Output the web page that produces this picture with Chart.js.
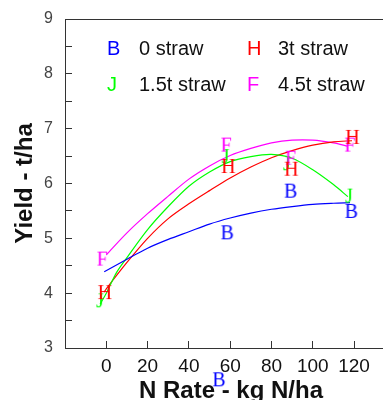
<!DOCTYPE html>
<html>
<head>
<meta charset="utf-8">
<script src="https://cdn.jsdelivr.net/npm/chart.js@4/dist/chart.umd.min.js"></script>
<style>
  html, body { margin: 0; padding: 0; background: #fff; }
</style>
</head>
<body>
<canvas id="yieldChart" width="383" height="400"></canvas>
<script>
// series: 0 straw, 1.5t straw, 3t straw, 4.5t straw
const seriesNames = ['0 straw', '1.5t straw', '3t straw', '4.5t straw'];
const seriesColors = ['#0000ff', '#00ff00', '#ff0000', '#ff00ff'];
const markerLetters = ['B', 'J', 'H', 'F'];
const markerOrder = [4, 3, 1, 2]; // red letters sit on top, blue underneath

// fitted response curves
const curve0X = [-1, 10, 20, 30, 40, 50, 60, 70, 80, 90, 100, 110, 118];
const curve0Y = [4.39, 4.62, 4.82, 4.98, 5.12, 5.26, 5.37, 5.46, 5.53, 5.58, 5.62, 5.64, 5.65];
const curve15X = [-3, 0, 5, 10, 20, 30, 40, 50, 60, 70, 80, 90, 100, 110, 117];
const curve15Y = [3.80, 4.00, 4.38, 4.65, 5.16, 5.58, 5.95, 6.21, 6.40, 6.49, 6.53, 6.46, 6.25, 5.98, 5.76];
const curve3X = [-1, 0, 10, 20, 30, 40, 50, 60, 70, 80, 90, 100, 110, 119];
const curve3Y = [4.02, 4.08, 4.56, 5.00, 5.36, 5.63, 5.87, 6.10, 6.30, 6.47, 6.60, 6.70, 6.76, 6.78];
const curve45X = [0, 10, 20, 30, 40, 50, 60, 70, 80, 90, 100, 110, 117];
const curve45Y = [4.70, 5.10, 5.45, 5.77, 6.08, 6.32, 6.51, 6.64, 6.74, 6.79, 6.79, 6.74, 6.68];

// measured yields (letter markers)
const mark0X = [58.6, 89.3, 118.7, 54.6];
const mark0Y = [5.11, 5.87, 5.50, 2.43];
const mark15X = [-3, 57.8, 87.5, 117.6];
const mark15Y = [3.87, 6.50, 6.37, 5.78];
const mark3X = [-0.7, 59.1, 89.6, 119.2];
const mark3Y = [4.02, 6.32, 6.27, 6.85];
const mark45X = [-2, 58, 89.2, 117.9];
const mark45Y = [4.63, 6.71, 6.47, 6.71];

const xTickValues = [0, 20, 40, 60, 80, 100, 120];
const yTickValues = [3, 3.5, 4, 4.5, 5, 5.5, 6, 6.5, 7, 7.5, 8, 8.5, 9];

const curvesX = [curve0X, curve15X, curve3X, curve45X];
const curvesY = [curve0Y, curve15Y, curve3Y, curve45Y];
const marksX = [mark0X, mark15X, mark3X, mark45X];
const marksY = [mark0Y, mark15Y, mark3Y, mark45Y];

function pairs(xs, ys) {
  return xs.map((x, i) => ({ x: x, y: ys[i] }));
}

// letter used as point style
function letterImage(ch, color) {
  const c = document.createElement('canvas');
  c.width = 22;
  c.height = 22;
  const g = c.getContext('2d');
  g.font = '20px "Liberation Serif", "Times New Roman", serif';
  g.fillStyle = color;
  g.textAlign = 'center';
  g.textBaseline = 'alphabetic';
  g.fillText(ch, 11, 17.6);
  return c;
}

const datasets = [];
seriesNames.forEach((name, i) => {
  datasets.push({
    label: name + ' fit',
    data: pairs(curvesX[i], curvesY[i]),
    showLine: true,
    borderColor: seriesColors[i],
    borderWidth: 1.2,
    pointRadius: 0,
    tension: 0.3,
    order: 10
  });
});
seriesNames.forEach((name, i) => {
  datasets.push({
    label: name,
    data: pairs(marksX[i], marksY[i]),
    showLine: false,
    pointStyle: letterImage(markerLetters[i], seriesColors[i]),
    pointRadius: 40, // only a hit/clip margin, the letter keeps its own size
    clip: false,
    order: markerOrder[i]
  });
});

function noPad(s) {
  s.paddingTop = 0;
  s.paddingBottom = 0;
  s.paddingLeft = 0;
  s.paddingRight = 0;
}

// frame top line, x title and the legend box
const extras = {
  id: 'extras',
  afterDraw(chart) {
    const ctx = chart.ctx;
    const a = chart.chartArea;
    ctx.save();
    ctx.strokeStyle = '#333';
    ctx.lineWidth = 1;
    ctx.beginPath();
    ctx.moveTo(a.left, a.top + 0.5);
    ctx.lineTo(a.right, a.top + 0.5);
    ctx.stroke();

    ctx.fillStyle = '#111';
    ctx.font = 'bold 24px "Liberation Sans", Arial, sans-serif';
    ctx.textAlign = 'center';
    ctx.textBaseline = 'alphabetic';
    ctx.fillText('N Rate - kg N/ha', 231, 398);

    // legend: two columns
    const slots = [[0, 0], [0, 1], [1, 0], [1, 1]]; // [col,row] per series
    const colLetter = [107, 247];
    const colText = [139, 278];
    const rowBase = [55, 90.5];
    ctx.font = '20px "Liberation Sans", Arial, sans-serif';
    ctx.textAlign = 'left';
    seriesNames.forEach((name, i) => {
      const [c, r] = slots[i];
      ctx.fillStyle = seriesColors[i];
      ctx.fillText(markerLetters[i], colLetter[c], rowBase[r]);
      ctx.fillStyle = '#111';
      ctx.fillText(name, colText[c], rowBase[r]);
    });
    ctx.restore();
  }
};

new Chart(document.getElementById('yieldChart').getContext('2d'), {
  type: 'scatter',
  data: { datasets: datasets },
  options: {
    responsive: false,
    animation: false,
    layout: { autoPadding: false, padding: { top: 19, left: 0, right: 0, bottom: 0 } },
    plugins: { legend: { display: false }, tooltip: { enabled: false } },
    scales: {
      x: {
        type: 'linear',
        position: 'bottom',
        min: -20,
        max: 134,
        afterFit: s => { s.height = 52; noPad(s); },
        afterBuildTicks: s => { s.ticks = xTickValues.map(v => ({ value: v })); },
        grid: { drawOnChartArea: false, tickLength: -7, tickColor: '#333', tickWidth: 1 },
        border: { color: '#333', width: 1 },
        ticks: {
          autoSkip: false,
          maxRotation: 0,
          padding: 14,
          color: '#111',
          font: { family: '"Liberation Sans", Arial, sans-serif', size: 19 }
        }
      },
      y: {
        type: 'linear',
        min: 3,
        max: 9,
        afterFit: s => { s.width = 65; noPad(s); },
        afterBuildTicks: s => { s.ticks = yTickValues.map(v => ({ value: v })); },
        grid: { drawOnChartArea: false, tickLength: -7, tickColor: '#333', tickWidth: 1 },
        border: { color: '#333', width: 1 },
        ticks: {
          autoSkip: false,
          padding: 19,
          color: '#444',
          font: { family: '"Liberation Sans", Arial, sans-serif', size: 16 },
          callback: v => (v % 1 === 0 ? String(v) : '')
        },
        title: {
          display: true,
          text: 'Yield - t/ha',
          color: '#111',
          font: { family: '"Liberation Sans", Arial, sans-serif', size: 24, weight: 'bold' },
          padding: { top: 11, bottom: 0 }
        }
      }
    }
  },
  plugins: [extras]
});
</script>
</body>
</html>
